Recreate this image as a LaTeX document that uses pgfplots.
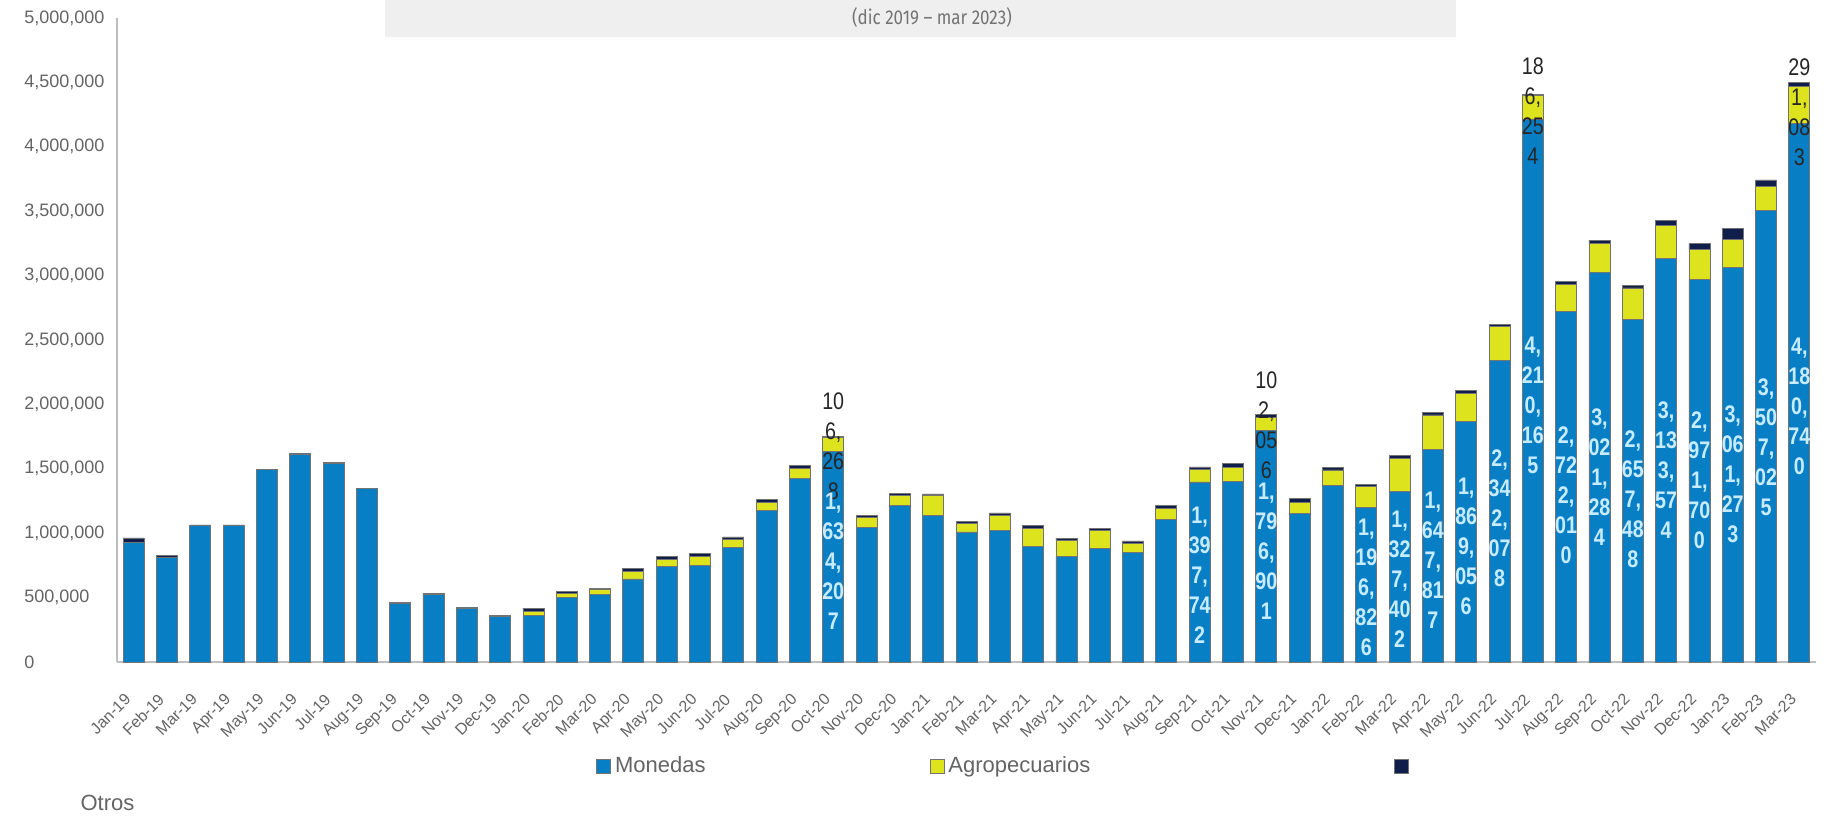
\documentclass[border=0pt]{standalone}
\usepackage{pgfplots}
\pgfplotsset{compat=1.18}
\usepackage{fontspec}
\setmainfont{Liberation Sans}
\newfontfamily\narrowfont{Liberation Sans}[FakeStretch=0.82]
\newfontfamily\titlefont{Fira Sans}[FakeStretch=0.85]

\definecolor{monedas}{RGB}{8,126,196}
\definecolor{agro}{RGB}{221,228,30}
\definecolor{otros}{RGB}{16,30,75}
\definecolor{barline}{RGB}{115,115,115}
\definecolor{axisgray}{RGB}{190,190,190}
\definecolor{labgray}{RGB}{100,100,100}
\definecolor{boxgray}{RGB}{239,239,239}
\definecolor{lblue}{RGB}{200,236,255}

% data labels wrapped two characters per line, as in the source
\protected\def\vfive#1#2#3#4#5{\begin{tabular}{@{}c@{}}#1\\#2\\#3\\#4\\#5\end{tabular}}
\protected\def\vfour#1#2#3#4{\begin{tabular}{@{}c@{}}#1\\#2\\#3\\#4\end{tabular}}

\pgfplotsset{
  sqleg/.style={legend image code/.code={\draw[##1,line width=0.4pt] (0pt,-3.5pt) rectangle (7pt,3.5pt);}},
  % #1: fraction of the segment to move the label down, #2: node style
  midlabel/.style 2 args={
    point meta=explicit symbolic,
    nodes near coords={\pgfplotspointmeta},
    visualization depends on=rawy \as \rawy,
    every node near coord/.style={anchor=center, inner sep=0pt,
      shift={(axis direction cs:0,-\rawy*#1)}, #2}},
}

\begin{document}
\begin{tikzpicture}
  \useasboundingbox (-58.5pt,-77pt) rectangle (854.5pt,331pt);
  % title strip (only its last line is visible in the source)
  \fill[boxgray] (134pt,312.5pt) rectangle (669.5pt,331pt);
  \node[text=black!55, font=\titlefont\fontsize{10}{12}\selectfont] at (407.5pt,322pt) {(dic 2019 – mar 2023)};

  \begin{axis}[
    at={(0,0)}, anchor=south west,
    scale only axis, width=849.5pt, height=322pt,
    ybar stacked, bar width=0.63,
    xmin=-0.5, xmax=50.5, ymin=0, ymax=5000,
    axis x line*=bottom, axis y line*=left,
    axis line style={axisgray, line width=1pt},
    major tick length=0pt,
    clip=false,
    xtick={0,...,50},
    xticklabels={Jan-19,Feb-19,Mar-19,Apr-19,May-19,Jun-19,Jul-19,Aug-19,Sep-19,Oct-19,Nov-19,Dec-19,
                 Jan-20,Feb-20,Mar-20,Apr-20,May-20,Jun-20,Jul-20,Aug-20,Sep-20,Oct-20,Nov-20,Dec-20,
                 Jan-21,Feb-21,Mar-21,Apr-21,May-21,Jun-21,Jul-21,Aug-21,Sep-21,Oct-21,Nov-21,Dec-21,
                 Jan-22,Feb-22,Mar-22,Apr-22,May-22,Jun-22,Jul-22,Aug-22,Sep-22,Oct-22,Nov-22,Dec-22,
                 Jan-23,Feb-23,Mar-23},
    ytick={0,500,...,5000},
    yticklabels={0,{500,000},{1,000,000},{1,500,000},{2,000,000},{2,500,000},
                 {3,000,000},{3,500,000},{4,000,000},{4,500,000},{5,000,000}},
    ticklabel style={text=labgray},
    yticklabel style={anchor=west, inner sep=0pt, xshift=-46.5pt, font=\fontsize{9}{10}\selectfont},
    xticklabel style={font=\fontsize{8}{9}\selectfont, inner sep=0pt,
      yshift=-15pt, xshift=-5pt, rotate=45, anchor=north east},
    legend columns=3,
    legend style={draw=none, fill=none, at={(0.2819,-0.1615)}, anchor=west, inner sep=0pt,
      font=\fontsize{11}{13}\selectfont, text=labgray,
      /tikz/column 2/.style={column sep=110pt},
      /tikz/column 4/.style={column sep=150pt}},
  ]
    % Monedas (values in thousands)
    \addplot[fill=monedas, draw=barline, line width=0.4pt, sqleg,
      midlabel={0.03}{text=lblue, font=\fontsize{12}{15}\narrowfont\bfseries}] coordinates {
      (0,930) (1,815) (2,1059) (3,1059) (4,1493) (5,1615) (6,1545) (7,1345)
      (8,455) (9,525) (10,420) (11,355) (12,360) (13,503) (14,522) (15,645)
      (16,744) (17,749) (18,888) (19,1175) (20,1423)
      (21,1634.207) [{\vfive{1,}{63}{4,}{20}{7}}]
      (22,1044) (23,1219) (24,1136) (25,1010) (26,1023) (27,896) (28,822)
      (29,880) (30,849) (31,1110)
      (32,1397.742) [{\vfive{1,}{39}{7,}{74}{2}}]
      (33,1403)
      (34,1796.901) [{\vfive{1,}{79}{6,}{90}{1}}]
      (35,1156) (36,1371)
      (37,1196.826) [{\vfive{1,}{19}{6,}{82}{6}}]
      (38,1327.402) [{\vfive{1,}{32}{7,}{40}{2}}]
      (39,1647.817) [{\vfive{1,}{64}{7,}{81}{7}}]
      (40,1869.056) [{\vfive{1,}{86}{9,}{05}{6}}]
      (41,2342.078) [{\vfive{2,}{34}{2,}{07}{8}}]
      (42,4210.165) [{\vfive{4,}{21}{0,}{16}{5}}]
      (43,2722.010) [{\vfive{2,}{72}{2,}{01}{0}}]
      (44,3021.284) [{\vfive{3,}{02}{1,}{28}{4}}]
      (45,2657.488) [{\vfive{2,}{65}{7,}{48}{8}}]
      (46,3133.574) [{\vfive{3,}{13}{3,}{57}{4}}]
      (47,2971.700) [{\vfive{2,}{97}{1,}{70}{0}}]
      (48,3061.273) [{\vfive{3,}{06}{1,}{27}{3}}]
      (49,3507.025) [{\vfive{3,}{50}{7,}{02}{5}}]
      (50,4180.740) [{\vfive{4,}{18}{0,}{74}{0}}]
    };
    \addlegendentry{Monedas}
    % Agropecuarios
    \addplot[fill=agro, draw=barline, line width=0.4pt, sqleg,
      midlabel={0.25}{text=black!85, font=\fontsize{12}{15}\narrowfont}] coordinates {
      (0,0) (1,0) (2,0) (3,0) (4,0) (5,0) (6,0) (7,0) (8,0) (9,0) (10,0) (11,0)
      (12,35) (13,30) (14,40) (15,60) (16,52) (17,68) (18,65) (19,65) (20,83)
      (21,106.268) [{\vfour{10}{6,}{26}{8}}]
      (22,78) (23,73) (24,156) (25,65) (26,113) (27,141) (28,123) (29,139)
      (30,73) (31,83) (32,96) (33,110)
      (34,102.056) [{\vfour{10}{2,}{05}{6}}]
      (35,86) (36,120) (37,164) (38,252) (39,270) (40,215) (41,260)
      (42,186.254) [{\vfour{18}{6,}{25}{4}}]
      (43,210) (44,228) (45,247) (46,257) (47,230) (48,218) (49,184)
      (50,291.083) [{\vfour{29}{1,}{08}{3}}]
    };
    \addlegendentry{Agropecuarios}
    % Otros
    \addplot[fill=otros, draw=barline, line width=0.4pt, sqleg] coordinates {
      (0,33) (1,15) (2,5) (3,5) (4,5) (5,5) (6,5) (7,5) (8,5) (9,5) (10,5) (11,5)
      (12,23) (13,13) (14,12) (15,18) (16,21) (17,23) (18,18) (19,21) (20,21)
      (21,12) (22,19) (23,19) (24,13) (25,16) (26,21) (27,21) (28,16) (29,18)
      (30,18) (31,21) (32,21) (33,26) (34,20) (35,26) (36,21) (37,18) (38,26)
      (39,20) (40,25) (41,18) (42,8) (43,26) (44,26) (45,20) (46,40) (47,45)
      (48,84) (49,52) (50,28)
    };
    \addlegendentry{}
  \end{axis}
  \node[text=labgray, font=\fontsize{11}{13}\selectfont] at (-4.75pt,-70.5pt) {Otros};
\end{tikzpicture}
\end{document}
